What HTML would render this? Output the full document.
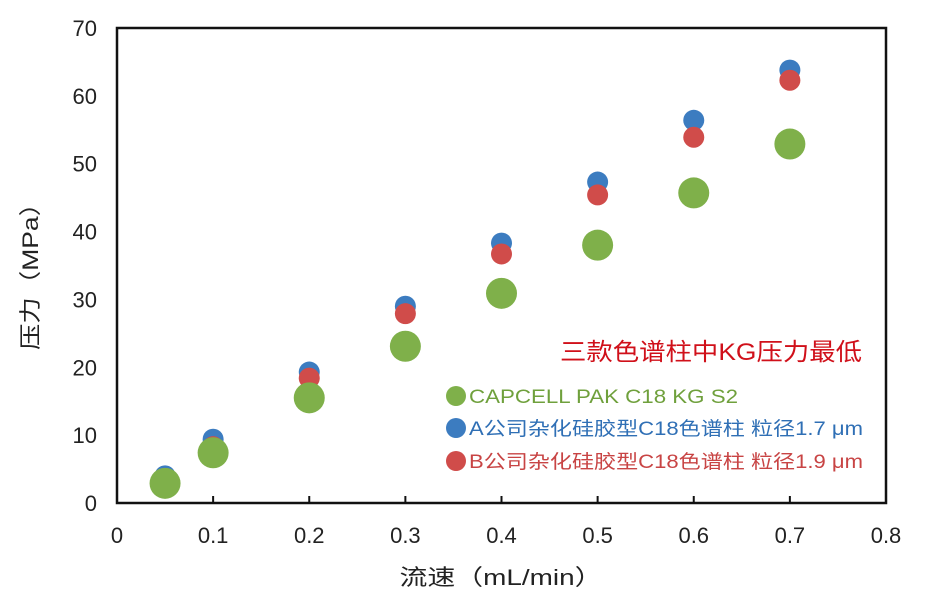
<!DOCTYPE html>
<html><head><meta charset="utf-8"><style>
body{margin:0;background:#fff}
svg text{font-family:"Liberation Sans","Noto Sans CJK SC",sans-serif}
</style></head><body>
<svg id="chart" width="925" height="592" xmlns="http://www.w3.org/2000/svg">
<rect x="117" y="28" width="769" height="475" fill="none" stroke="#111" stroke-width="2.5"/>
<g id="ticks"></g><g id="marks"></g>
<text transform="translate(38,270) rotate(-90)" text-anchor="middle" font-size="22" textLength="160" lengthAdjust="spacingAndGlyphs" fill="#222">压力（MPa）</text>
<text x="501" y="585" text-anchor="middle" font-size="22" textLength="203" lengthAdjust="spacingAndGlyphs" fill="#222">流速（mL/min）</text>
<text x="560" y="360" font-size="24" textLength="302" lengthAdjust="spacingAndGlyphs" fill="#d0101a">三款色谱柱中KG压力最低</text>
<g>
<circle cx="456" cy="396" r="10" fill="#7fb04a"/>
<text x="469" y="403" font-size="19" textLength="269" lengthAdjust="spacingAndGlyphs" fill="#6fa03c">CAPCELL PAK C18 KG S2</text>
<circle cx="456" cy="428" r="10" fill="#3c7cc0"/>
<text x="469" y="435" font-size="19" textLength="394" lengthAdjust="spacingAndGlyphs" fill="#2f6fb5">A公司杂化硅胶型C18色谱柱 粒径1.7 μm</text>
<circle cx="456" cy="461" r="10" fill="#d04c4a"/>
<text x="469" y="468" font-size="19" textLength="394" lengthAdjust="spacingAndGlyphs" fill="#c84444">B公司杂化硅胶型C18色谱柱 粒径1.9 μm</text>
</g>
</svg>
<script>
const flow=[0.05,0.1,0.2,0.3,0.4,0.5,0.6,0.7];
const seriesA=[4.0,9.4,19.3,29.0,38.3,47.3,56.4,63.8];
const seriesB=[3.5,8.3,18.4,27.9,36.7,45.4,53.9,62.3];
const seriesKG=[2.9,7.4,15.5,23.1,30.9,38.0,45.7,52.9];
const xTicks=[0,0.1,0.2,0.3,0.4,0.5,0.6,0.7,0.8];
const yTicks=[0,10,20,30,40,50,60,70];
const NS="http://www.w3.org/2000/svg";
const x=v=>117+v/0.8*769, y=v=>503-v/70*475;
const tg=document.getElementById('ticks'), mg=document.getElementById('marks');
function mk(tag,at,parent){const e=document.createElementNS(NS,tag);for(const k in at)e.setAttribute(k,at[k]);parent.appendChild(e);return e;}
xTicks.forEach(t=>{
 const tx=mk('text',{x:x(t),y:543,'text-anchor':'middle','font-size':22,fill:'#222'},tg);tx.textContent=String(t);
 
 
 if(t>0&&t<0.8){const l=mk('line',{x1:x(t),x2:x(t),y1:503,y2:496,stroke:'#111','stroke-width':2},tg);
 
 }
});
yTicks.forEach(t=>{
 const tx=mk('text',{x:97,y:y(t)+8,'text-anchor':'end','font-size':22,fill:'#222'},tg);tx.textContent=String(t);
 
 
});
function draw(vals,color,r,name){vals.forEach((v,i)=>{const c=mk('circle',{cx:x(flow[i]),cy:y(v),r:r,fill:color},mg);
 
 });}
draw(seriesA,'#3c7cc0',10.5,'series-a');
draw(seriesB,'#d04c4a',10.5,'series-b');
draw(seriesKG,'#7fb04a',15.5,'series-kg');
</script>
</body></html>
